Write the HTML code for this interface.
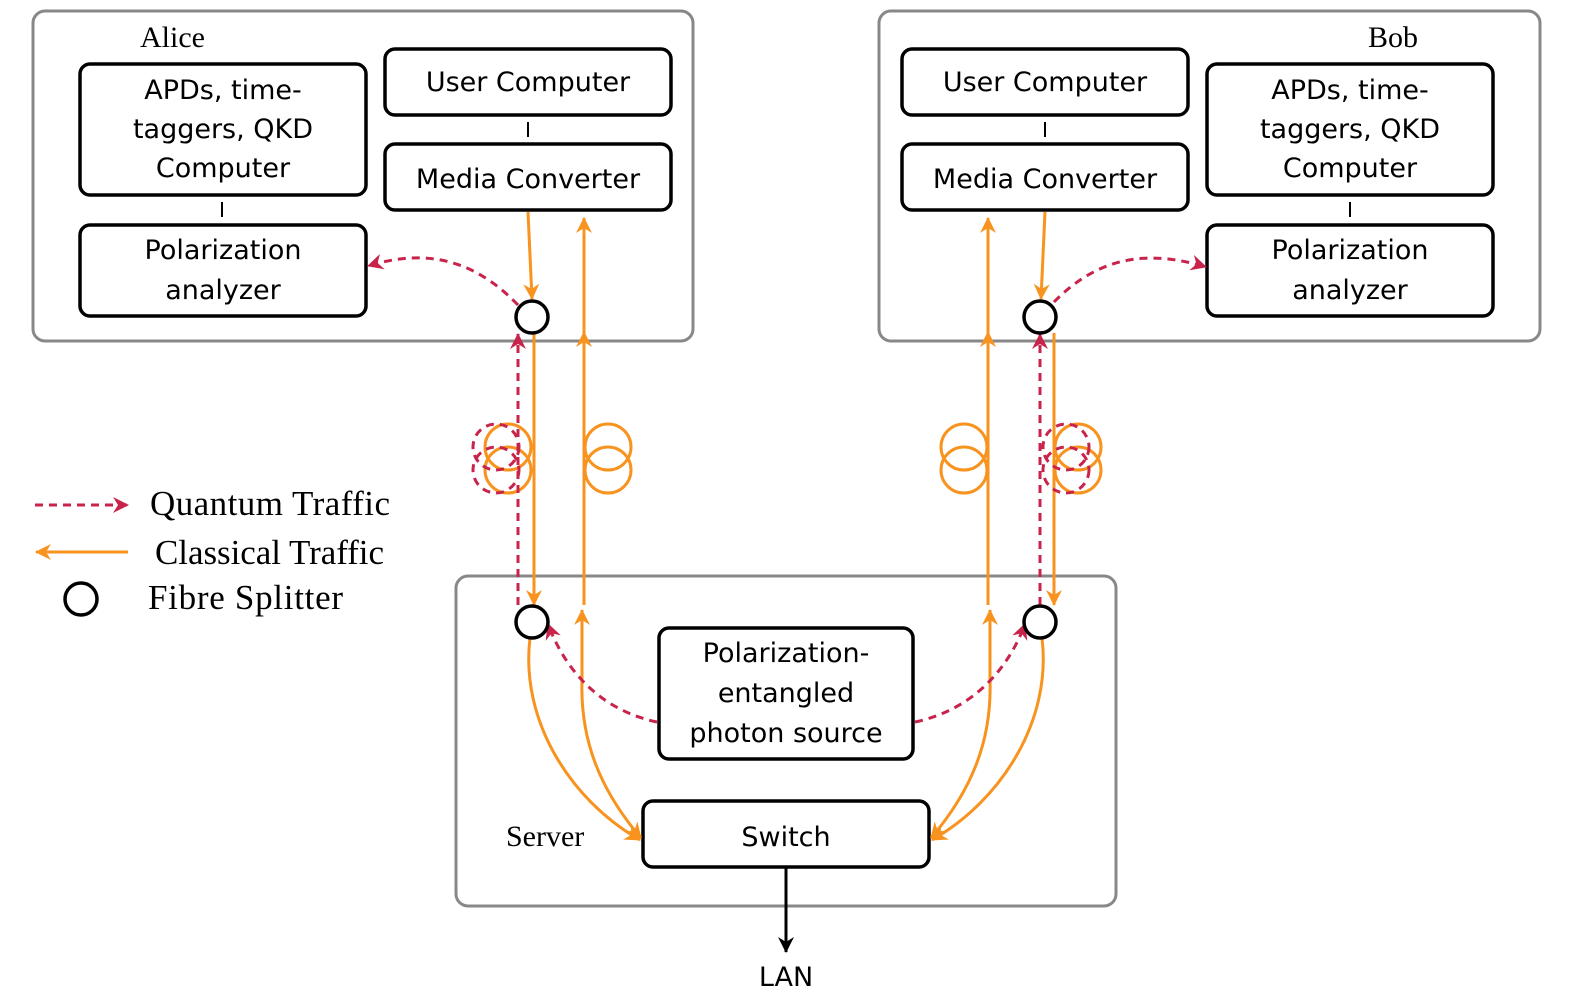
<!DOCTYPE html>
<html><head><meta charset="utf-8"><style>
html,body{margin:0;padding:0;background:#fff;}
svg{display:block;}
.s{font-family:"DejaVu Sans","Liberation Sans",sans-serif;font-size:27px;fill:#000;}
.r{font-family:"Liberation Serif",serif;font-size:30px;fill:#000;}
.l{font-family:"Liberation Serif",serif;font-size:35px;fill:#000;}
</style></head><body>
<svg width="1578" height="995" viewBox="0 0 1578 995" xmlns="http://www.w3.org/2000/svg">
<defs>
<marker id="ao" markerWidth="18" markerHeight="18" refX="15" refY="8" orient="auto" markerUnits="userSpaceOnUse"><path d="M0,0 L16,8 L0,16 L5,8 Z" fill="#f7931e"/></marker>
<marker id="ar" markerWidth="18" markerHeight="18" refX="15" refY="8" orient="auto" markerUnits="userSpaceOnUse"><path d="M0,0 L16,8 L0,16 L5,8 Z" fill="#c8234b"/></marker>
<marker id="ak" markerWidth="18" markerHeight="18" refX="15" refY="8" orient="auto" markerUnits="userSpaceOnUse"><path d="M0,0 L16,8 L0,16 L5,8 Z" fill="#000"/></marker>
</defs>
<g fill="none" stroke="#888" stroke-width="3">
<rect x="33" y="11" width="660" height="330" rx="12"/>
<rect x="879" y="11" width="661" height="330" rx="12"/>
<rect x="456" y="576" width="660" height="330" rx="12"/>
</g>
<g fill="#fff" stroke="#000" stroke-width="3.5">
<rect x="80" y="64" width="286" height="131" rx="10"/>
<rect x="385" y="49" width="286" height="66" rx="10"/>
<rect x="385" y="144" width="286" height="66" rx="10"/>
<rect x="80" y="225" width="286" height="91" rx="10"/>
<rect x="902" y="49" width="286" height="66" rx="10"/>
<rect x="902" y="144" width="286" height="66" rx="10"/>
<rect x="1207" y="64" width="286" height="131" rx="10"/>
<rect x="1207" y="225" width="286" height="91" rx="10"/>
<rect x="659" y="628" width="254" height="131" rx="10"/>
<rect x="643" y="801" width="286" height="66" rx="10"/>
</g>
<g stroke="#000" stroke-width="2">
<line x1="528" y1="122" x2="528" y2="137"/><line x1="222" y1="202" x2="222" y2="217"/>
<line x1="1045" y1="122" x2="1045" y2="137"/><line x1="1350" y1="202" x2="1350" y2="217"/>
</g>
<line x1="786" y1="867" x2="786" y2="952" stroke="#000" stroke-width="3" marker-end="url(#ak)"/>
<g fill="none" stroke="#f7931e" stroke-width="3">
<line x1="528" y1="212" x2="532" y2="299" marker-end="url(#ao)"/>
<line x1="584" y1="605" x2="584" y2="218" marker-end="url(#ao)"/>
<line x1="584" y1="400" x2="584" y2="332" marker-end="url(#ao)"/>
<line x1="534" y1="333" x2="534" y2="605" marker-end="url(#ao)"/>
<line x1="1045" y1="212" x2="1041" y2="299" marker-end="url(#ao)"/>
<line x1="988" y1="605" x2="988" y2="218" marker-end="url(#ao)"/>
<line x1="988" y1="400" x2="988" y2="332" marker-end="url(#ao)"/>
<line x1="1054" y1="333" x2="1054" y2="605" marker-end="url(#ao)"/>
<path d="M530,638 C520,720 570,800 640,840" marker-end="url(#ao)"/>
<path d="M582,680 C580,740 600,790 641,838" marker-end="url(#ao)"/>
<line x1="582" y1="680" x2="582" y2="610" marker-end="url(#ao)"/>
<path d="M1042,638 C1052,720 1002,800 932,840" marker-end="url(#ao)"/>
<path d="M990,680 C992,740 972,790 931,838" marker-end="url(#ao)"/>
<line x1="990" y1="680" x2="990" y2="610" marker-end="url(#ao)"/>
<circle cx="508" cy="447" r="23"/><circle cx="508" cy="470" r="23"/>
<circle cx="608" cy="447" r="23"/><circle cx="608" cy="470" r="23"/>
<circle cx="964" cy="447" r="23"/><circle cx="964" cy="470" r="23"/>
<circle cx="1078" cy="447" r="23"/><circle cx="1078" cy="470" r="23"/>
<line x1="128" y1="552" x2="36" y2="552" marker-end="url(#ao)"/>
</g>
<g fill="none" stroke="#c8234b" stroke-width="3" stroke-dasharray="8,6">
<line x1="518" y1="605" x2="518" y2="334" marker-end="url(#ar)"/>
<line x1="1040" y1="605" x2="1040" y2="334" marker-end="url(#ar)"/>
<path d="M518,305 C470,255 420,250 368,266" marker-end="url(#ar)"/>
<path d="M1054,302 C1100,255 1150,250 1206,267" marker-end="url(#ar)"/>
<path d="M657,722 C600,710 565,670 548,624" marker-end="url(#ar)"/>
<path d="M915,722 C972,710 1008,670 1025,624" marker-end="url(#ar)"/>
<circle cx="496" cy="447" r="23"/><circle cx="496" cy="470" r="23"/>
<circle cx="1066" cy="447" r="23"/><circle cx="1066" cy="470" r="23"/>
<line x1="35" y1="505" x2="128" y2="505" marker-end="url(#ar)"/>
</g>
<g fill="#fff" stroke="#000" stroke-width="3.5">
<circle cx="532" cy="317" r="16"/><circle cx="1040" cy="317" r="16"/>
<circle cx="532" cy="622" r="16"/><circle cx="1040" cy="622" r="16"/>
<circle cx="81" cy="599" r="16"/>
</g>
<g class="s" text-anchor="middle">
<text x="223" y="99">APDs, time-</text><text x="223" y="138">taggers, QKD</text><text x="223" y="177">Computer</text>
<text x="528" y="91">User Computer</text><text x="528" y="188">Media Converter</text>
<text x="223" y="259">Polarization</text><text x="223" y="299">analyzer</text>
<text x="1045" y="91">User Computer</text><text x="1045" y="188">Media Converter</text>
<text x="1350" y="99">APDs, time-</text><text x="1350" y="138">taggers, QKD</text><text x="1350" y="177">Computer</text>
<text x="1350" y="259">Polarization</text><text x="1350" y="299">analyzer</text>
<text x="786" y="662">Polarization-</text><text x="786" y="702">entangled</text><text x="786" y="742">photon source</text>
<text x="786" y="846">Switch</text>
<text x="786" y="986">LAN</text>
</g>
<g class="r">
<text x="140" y="47">Alice</text>
<text x="1368" y="47">Bob</text>
<text x="506" y="846">Server</text>
</g>
<g class="l">
<text x="150" y="515" textLength="240">Quantum Traffic</text>
<text x="155" y="564" textLength="229">Classical Traffic</text>
<text x="148" y="609" textLength="195">Fibre Splitter</text>
</g>
</svg>
</body></html>
